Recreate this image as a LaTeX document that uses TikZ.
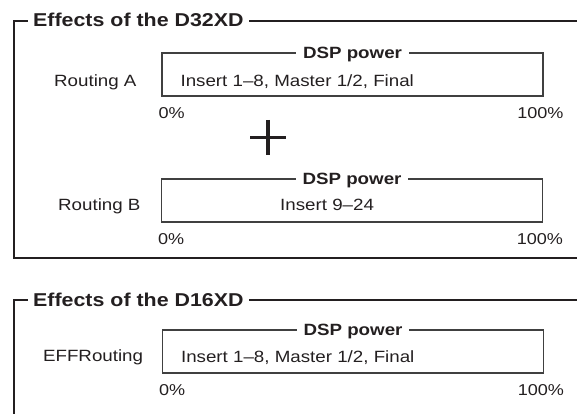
\documentclass[tikz,border=0pt]{standalone}
\usepackage{fontspec}
\setmainfont{Liberation Sans}[FakeStretch=1.15]
\usetikzlibrary{positioning,calc}
\definecolor{ink}{HTML}{231F20}
\definecolor{boxline}{HTML}{404040}

\begin{document}
\begin{tikzpicture}[x=1pt, y=-1pt, every node/.style={text=ink, inner sep=0pt, font=\fontsize{16.3}{18}\selectfont},
  frame/.style={draw=ink, line width=2.7pt},
  powerbox/.style={draw=boxline, line width=1.3pt, minimum width=381pt, minimum height=43pt},
  boxtitle/.style={fill=white, inner xsep=7pt, anchor=base, font=\fontsize{16.3}{18}\bfseries},
  frametitle/.style={fill=white, inner xsep=5pt, anchor=west, font=\fontsize{18.6}{20}\bfseries},
  rowlabel/.style={anchor=base east},
  fill text/.style={anchor=base west},
  pct/.style={font=\fontsize{15.7}{18}\selectfont}]
\useasboundingbox (0,0) rectangle (577,414);
% D32XD frame
\draw[frame] (577,21) -- (14,21) -- (14,258) -- (577,258);
\node[frametitle] (titleD32) at (28,20) {Effects of the D32XD};
\node[powerbox] (routeA) at (352.5,74.5) {};
\node[boxtitle] (dspA) at ([yshift=-6pt]routeA.north) {DSP power};
\node[rowlabel] (labelA) at (136.7,86.7) {Routing A};
\node[fill text] (insA) at ([shift={(19,12)}]routeA.west) {Insert 1--8, Master 1/2, Final};
\node[pct, anchor=base west] (zeroA) at ([shift={(-3,22)}]routeA.south west) {0\%};
\node[pct, anchor=base east] (fullA) at ([shift={(20,22)}]routeA.south east) {100\%};
% plus sign
\coordinate (plus) at (268,137.5);
\draw[draw=ink, line width=3.2pt] ([xshift=-18pt]plus) -- ([xshift=18pt]plus) ([yshift=17.5pt]plus) -- ([yshift=-17.5pt]plus);
\node[powerbox] (routeB) at (352,200.5) {};
\node[boxtitle] (dspB) at ([yshift=-6pt]routeB.north) {DSP power};
\node[rowlabel] (labelB) at (140.7,210) {Routing B};
\node[fill text] (insB) at (280,210.5) {Insert 9--24};
\node[pct, anchor=base west] (zeroB) at ([shift={(-3,22)}]routeB.south west) {0\%};
\node[pct, anchor=base east] (fullB) at ([shift={(20,22)}]routeB.south east) {100\%};
% D16XD frame
\draw[frame] (577,300) -- (14,300) -- (14,420);
\node[frametitle] (titleD16) at (28,299.5) {Effects of the D16XD};
\node[powerbox] (routeC) at (353,351.5) {};
\node[boxtitle] (dspC) at ([yshift=-6pt]routeC.north) {DSP power};
\node[rowlabel] (labelC) at (143.3,361.7) {EFFRouting};
\node[fill text] (insC) at ([shift={(19,10.5)}]routeC.west) {Insert 1--8, Master 1/2, Final};
\node[pct, anchor=base west] (zeroC) at ([shift={(-3,22)}]routeC.south west) {0\%};
\node[pct, anchor=base east] (fullC) at ([shift={(20,22)}]routeC.south east) {100\%};
\end{tikzpicture}
\end{document}
